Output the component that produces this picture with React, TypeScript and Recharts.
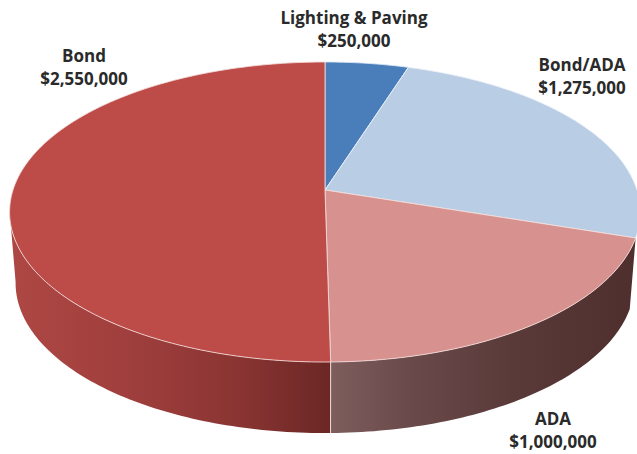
import React from 'react';
import { PieChart, Pie } from 'recharts';

const categories = ['Lighting & Paving', 'Bond/ADA', 'ADA', 'Bond'];
const amounts = [250000, 1275000, 1000000, 2550000];

const topColors = ['#4a7ebb', '#b9cde5', '#d79290', '#bd4c49'];
const edgeColors = ['#dbe6f2', '#eef3f8', '#f3dcd8', '#f3dcd8'];
const wallColors = ['none', 'none', 'url(#adaWall)', 'url(#bondWall)'];
const labelAnchors = [
  { x: 354, y: 24 },
  { x: 582, y: 71 },
  { x: 553, y: 425 },
  { x: 84, y: 62 },
];

const tableRows = categories.map((name, i) => ({ name, value: amounts[i] }));

// tilted disc: same projection for every slice, apex sits above the ellipse centre
const TILT = 0.1467;
const SQUASH = 0.4705;
const DEPTH = 71;
const BASE_SHRINK = 0.981;
const FRONT_FROM = 98;
const FRONT_TO = 262;

type Pt = [number, number];

// clock = degrees clockwise from 12 o'clock
const project = (cx: number, cy: number, r: number, clock: number): Pt => {
  const rad = (clock * Math.PI) / 180;
  const u = Math.sin(rad);
  const v = Math.cos(rad);
  const w = 1 + TILT * v;
  return [cx + (r * u) / w, cy - (r * SQUASH * v) / w];
};

const projectBase = (cx: number, cy: number, r: number, clock: number): Pt => {
  const [x, y] = project(cx, cy, r, clock);
  return [cx + (x - cx) * BASE_SHRINK, y + DEPTH];
};

const sweep = (from: number, to: number) => {
  const out: number[] = [];
  const steps = Math.max(2, Math.ceil(Math.abs(to - from)));
  for (let i = 0; i <= steps; i++) out.push(from + ((to - from) * i) / steps);
  return out;
};

const toPath = (pts: Pt[]) =>
  pts.map((p, i) => `${i ? 'L' : 'M'}${p[0].toFixed(2)},${p[1].toFixed(2)}`).join(' ') + ' Z';

const clockRange = (props: any): [number, number] => {
  const a = 90 - props.startAngle;
  const b = 90 - props.endAngle;
  return [Math.min(a, b), Math.max(a, b)];
};

const TopSlice = (props: any) => {
  const { cx, cy, outerRadius, name } = props;
  const idx = categories.indexOf(name);
  const [lo, hi] = clockRange(props);
  const pts: Pt[] = [[cx, cy], ...sweep(lo, hi).map((c) => project(cx, cy, outerRadius, c))];
  return (
    <path
      d={toPath(pts)}
      fill={topColors[idx]}
      stroke={edgeColors[idx]}
      strokeWidth={1}
      strokeOpacity={0.85}
      strokeLinejoin="round"
    />
  );
};

const WallSlice = (props: any) => {
  const { cx, cy, outerRadius, name } = props;
  const idx = categories.indexOf(name);
  const [a, b] = clockRange(props);
  const lo = Math.max(a, FRONT_FROM);
  const hi = Math.min(b, FRONT_TO);
  if (lo >= hi || wallColors[idx] === 'none') return null;
  const upper = sweep(lo, hi).map((c) => project(cx, cy, outerRadius, c));
  const lower = sweep(hi, lo).map((c) => projectBase(cx, cy, outerRadius, c));
  const edgeTop = project(cx, cy, outerRadius, lo);
  const edgeBase = projectBase(cx, cy, outerRadius, lo);
  return (
    <g>
      <path d={toPath([...upper, ...lower])} fill={wallColors[idx]} />
      {name === 'Bond' && (
        <line
          x1={edgeTop[0]}
          y1={edgeTop[1]}
          x2={edgeBase[0]}
          y2={edgeBase[1]}
          stroke="#f3dcd8"
          strokeWidth={1}
        />
      )}
    </g>
  );
};

const formatAmount = (value: number) => `$${value.toLocaleString('en-US')}`;

const SliceLabel = (props: any) => {
  const idx = categories.indexOf(props.name);
  const spot = labelAnchors[idx];
  return (
    <text
      x={spot.x}
      y={spot.y}
      textAnchor="middle"
      fill="#2a2a2a"
      fontFamily="'Open Sans', sans-serif"
      fontWeight={700}
      fontSize={17}
    >
      <tspan x={spot.x}>{props.name}</tspan>
      <tspan x={spot.x} dy={23}>
        {formatAmount(props.value)}
      </tspan>
    </text>
  );
};

const App: React.FC = () => (
  <div style={{ position: 'absolute', left: 0, top: 0, width: 637, height: 454, overflow: 'hidden', background: '#fff' }}>
    <PieChart width={637} height={454} margin={{ top: 0, right: 0, bottom: 0, left: 0 }}>
      <defs>
        <linearGradient id="bondWall" gradientUnits="userSpaceOnUse" x1={15} y1={0} x2={331} y2={0}>
          <stop offset="0" stopColor="#ad4744" />
          <stop offset="0.35" stopColor="#a03f3d" />
          <stop offset="0.7" stopColor="#8a3533" />
          <stop offset="1" stopColor="#6b2725" />
        </linearGradient>
        <linearGradient id="adaWall" gradientUnits="userSpaceOnUse" x1={331} y1={0} x2={636} y2={0}>
          <stop offset="0" stopColor="#7e5e5d" />
          <stop offset="0.25" stopColor="#6a4a4a" />
          <stop offset="0.6" stopColor="#5a3a39" />
          <stop offset="1" stopColor="#4f2f2e" />
        </linearGradient>
      </defs>
      <Pie
        data={tableRows}
        dataKey="value"
        nameKey="name"
        cx={325}
        cy={190}
        innerRadius={0}
        outerRadius={312}
        startAngle={90}
        endAngle={-270}
        stroke="none"
        shape={WallSlice}
        isAnimationActive={false}
      />
      <Pie
        data={tableRows}
        dataKey="value"
        nameKey="name"
        cx={325}
        cy={190}
        innerRadius={0}
        outerRadius={312}
        startAngle={90}
        endAngle={-270}
        stroke="none"
        shape={TopSlice}
        label={SliceLabel}
        labelLine={false}
        isAnimationActive={false}
      />
    </PieChart>
  </div>
);

export default App;
